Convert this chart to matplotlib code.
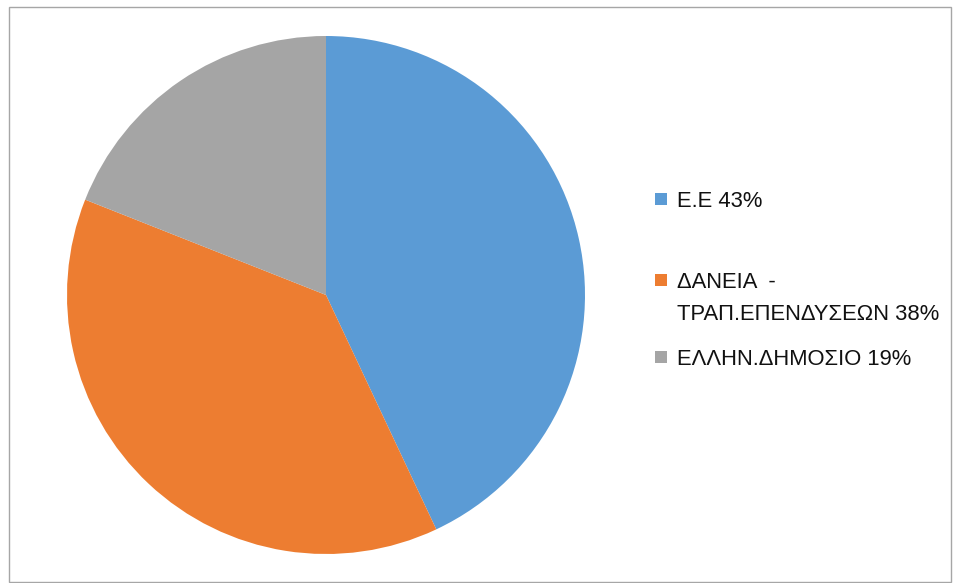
import matplotlib
matplotlib.use("Agg")
import matplotlib.pyplot as plt
from matplotlib.patches import Rectangle

# Funding shares (%)
categories = ["Ε.Ε", "ΔΑΝΕΙΑ  -\nΤΡΑΠ.ΕΠΕΝΔΥΣΕΩΝ", "ΕΛΛΗΝ.ΔΗΜΟΣΙΟ"]
shares = [43, 38, 19]
colors = ["#5B9BD5", "#ED7D31", "#A5A5A5"]

W, H = 957, 583
fig = plt.figure(figsize=(W / 100, H / 100), dpi=100)
fig.patch.set_facecolor("white")

# Outer chart border
fig.add_artist(Rectangle((8.5 / W, 1.5 / H), 942 / W, 575 / H,
                         transform=fig.transFigure, fill=False,
                         edgecolor="#A6A6A6", linewidth=1.0))

# Pie area
cx, cy, r = 326, 295, 259
ax = fig.add_axes([(cx - r) / W, (H - cy - r) / H, 2 * r / W, 2 * r / H])
wedges, _ = ax.pie(shares, colors=colors, startangle=90, counterclock=False,
                   radius=1.0, wedgeprops=dict(linewidth=0))
ax.set_xlim(-1, 1)
ax.set_ylim(-1, 1)
ax.set_aspect("equal")
ax.axis("off")

# Legend
font = dict(family=["Liberation Sans", "DejaVu Sans"], size=15.8, color="#111111")
entry_y = [199, 280, 357]
sq = 12
for w, cat, val, y in zip(wedges, categories, shares, entry_y):
    fig.add_artist(Rectangle((655 / W, (H - y - sq / 2) / H), sq / W, sq / H,
                             transform=fig.transFigure,
                             facecolor=w.get_facecolor(), edgecolor="none"))
    lines = f"{cat} {val}%".split("\n")
    for i, line in enumerate(lines):
        fig.text(677 / W, (H - y - i * 32) / H, line, ha="left", va="center_baseline",
                 **font)

fig.savefig("out.png", dpi=100, facecolor="white")
